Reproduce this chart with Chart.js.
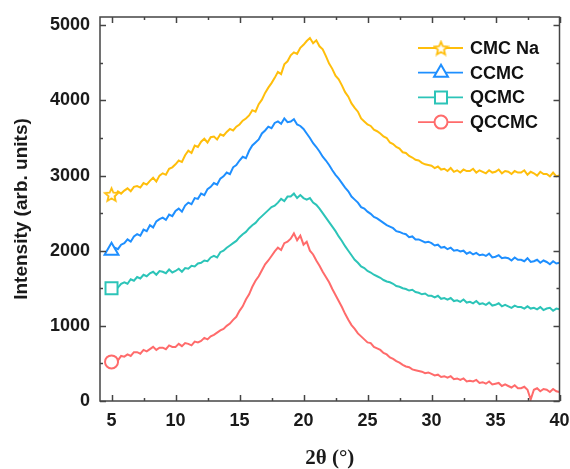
<!DOCTYPE html>
<html>
<head>
<meta charset="utf-8">
<script src="https://cdn.jsdelivr.net/npm/chart.js@4.4.0/dist/chart.umd.min.js"></script>
<style>
  html, body { margin: 0; padding: 0; background: #fff; }
  #wrap { width: 570px; height: 469px; }
</style>
</head>
<body>
<div id="wrap"><canvas id="xrdChart" width="570" height="469"></canvas></div>
<script>
// --- Data (2theta step 0.25 deg, 5..40) ---
const twoTheta = Array.from({ length: 141 }, (_, i) => 5 + i * 0.25);

const cmcNa = [
  2750, 2720, 2790, 2760, 2800, 2830, 2790, 2850, 2860, 2840, 2900, 2880,
  2930, 2970, 2920, 3000, 3030, 3010, 3090, 3110, 3150, 3200, 3180, 3270,
  3330, 3300, 3400, 3380, 3450, 3490, 3440, 3510, 3520, 3480, 3550, 3530,
  3580, 3620, 3600, 3650, 3680, 3730, 3760, 3800, 3870, 3850, 3950, 4010,
  4100, 4170, 4230, 4300, 4380, 4350, 4480, 4520, 4600, 4640, 4620, 4700,
  4740, 4790, 4830, 4760, 4800, 4720, 4680, 4590, 4490, 4420, 4330, 4280,
  4200, 4110, 4050, 3960, 3900, 3850, 3760, 3720, 3680, 3660, 3610, 3590,
  3560, 3520, 3500, 3440, 3420, 3380, 3360, 3310, 3300, 3260, 3240, 3210,
  3200, 3170, 3150, 3140, 3130, 3100, 3120, 3080, 3090, 3060, 3100, 3050,
  3070, 3040, 3080, 3060, 3060, 3090, 3040, 3070, 3050, 3030, 3070, 3040,
  3050, 3080, 3030, 3060, 3050, 3020, 3060, 3040, 3040, 3070, 3010, 3050,
  3030, 3000, 3050, 3020, 3020, 2990, 3040, 2990, 3000
];

const ccmc = [
  2000, 2040, 2020, 2080, 2100, 2150, 2120, 2190, 2220, 2200, 2280, 2260,
  2340, 2310, 2390, 2420, 2440, 2410, 2480, 2460, 2530, 2560, 2520, 2600,
  2640, 2620, 2700, 2690, 2760, 2740, 2820, 2850, 2900, 2880, 2960, 2990,
  3040, 3020, 3110, 3140, 3200, 3250, 3230, 3330, 3400, 3440, 3480, 3560,
  3600, 3650, 3630, 3700, 3720, 3690, 3760, 3710, 3720, 3750, 3680, 3660,
  3620, 3560, 3500, 3430, 3380, 3320, 3250, 3200, 3140, 3070, 3010, 2960,
  2900, 2840, 2790, 2720, 2680, 2640, 2580, 2560, 2520, 2490, 2450, 2430,
  2400, 2370, 2340, 2320, 2300, 2260, 2250, 2230, 2220, 2180, 2190, 2150,
  2150, 2130, 2110, 2120, 2100, 2070, 2080, 2040, 2050, 2020, 2040, 2000,
  2010, 1990, 2000, 1960, 1980, 1950, 1970, 1940, 1950, 1930, 1960, 1910,
  1920, 1940, 1900, 1910, 1900, 1870, 1910, 1880, 1880, 1860, 1900, 1850,
  1860, 1880, 1840, 1870, 1850, 1820, 1860, 1830, 1840
];

const qcmc = [
  1500, 1530, 1510, 1560, 1580, 1560, 1620, 1600, 1650, 1630, 1680, 1660,
  1700, 1720, 1680, 1730, 1720, 1700, 1750, 1710, 1730, 1760, 1720, 1770,
  1760, 1800, 1790, 1830, 1840, 1870, 1860, 1910, 1930, 1910, 1980, 2000,
  2040, 2070, 2100, 2130, 2180, 2220, 2250, 2300, 2340, 2370, 2420, 2460,
  2500, 2540, 2580, 2600, 2640, 2690, 2660, 2720, 2720, 2760, 2700, 2740,
  2700, 2680, 2700, 2640, 2610, 2560, 2500, 2440, 2380, 2320, 2260, 2190,
  2130, 2060, 2000, 1940, 1880, 1840, 1790, 1770, 1730, 1710, 1680, 1660,
  1640, 1610, 1590, 1580, 1560, 1530, 1520, 1500, 1490, 1470, 1480, 1450,
  1440, 1420, 1430, 1400, 1400, 1380, 1400, 1360, 1370, 1350, 1370, 1330,
  1340, 1320, 1350, 1310, 1320, 1300, 1330, 1290, 1300, 1280, 1310, 1270,
  1280, 1300, 1260, 1280, 1260, 1240, 1270, 1250, 1250, 1230, 1260, 1230,
  1240, 1220, 1250, 1210, 1230, 1240, 1200, 1230, 1220
];

const qccmc = [
  520, 560, 540, 600, 590, 620, 600, 650, 650, 630, 680, 660,
  690, 720, 680, 710, 710, 690, 740, 720, 720, 760, 730, 770,
  760, 740, 790, 780, 800, 840, 820, 860, 880, 910, 940, 960,
  1000, 1030, 1080, 1120, 1200, 1260, 1350, 1420, 1520, 1600, 1660, 1740,
  1820, 1870, 1930, 1990, 2040, 2010, 2100, 2120, 2160, 2230, 2140, 2200,
  2080, 2120, 2000, 1950, 1870, 1800, 1720, 1650, 1580, 1490, 1410, 1330,
  1250, 1160, 1080, 1010, 960, 900, 860, 820, 780, 770, 720, 700,
  680, 640, 620, 580, 560, 530, 510, 480, 460, 450, 420, 410,
  400, 390, 370, 380, 360, 340, 350, 320, 330, 310, 330, 290,
  300, 280, 300, 260, 270, 260, 280, 240, 250, 230, 260, 220,
  230, 240, 200, 220, 200, 180, 210, 170, 170, 190, 150, 20,
  150, 170, 130, 160, 150, 120, 160, 130, 120
];

const seriesNames = ["CMC Na", "CCMC", "QCMC", "QCCMC"];
const seriesColors = ["#FFBE0B", "#1E8FFF", "#2CC4B8", "#FF6B6B"];

const xTicks = [5, 10, 15, 20, 25, 30, 35, 40];
const xMinorTicks = [7.5, 12.5, 17.5, 22.5, 27.5, 32.5, 37.5];
const yTicks = [0, 1000, 2000, 3000, 4000, 5000];
const yMinorTicks = [500, 1500, 2500, 3500, 4500];

// hollow five-point star marker
function makeStar(color, size) {
  const c = document.createElement("canvas");
  c.width = size; c.height = size;
  const g = c.getContext("2d");
  const cx = size / 2, cy = size / 2 + 0.8, R = size / 2 - 1.5, r = R * 0.45;
  g.beginPath();
  for (let i = 0; i < 10; i++) {
    const ang = -Math.PI / 2 + i * Math.PI / 5;
    const rad = i % 2 ? r : R;
    g.lineTo(cx + rad * Math.cos(ang), cy + rad * Math.sin(ang));
  }
  g.closePath();
  g.fillStyle = "#fff";
  g.fill();
  g.strokeStyle = color;
  g.lineWidth = 1.8;
  g.stroke();
  return c;
}

const markerStyles = [makeStar(seriesColors[0], 17), "triangle", "rect", "circle"];
const markerRadius = [8, 8, 8.5, 6.5];

function toPoints(arr) {
  return arr.map((v, i) => ({ x: twoTheta[i], y: v }));
}

const seriesData = [cmcNa, ccmc, qcmc, qccmc];

const datasets = seriesData.map((arr, k) => ({
  label: seriesNames[k],
  data: toPoints(arr),
  borderColor: seriesColors[k],
  backgroundColor: "#fff",
  borderWidth: 2,
  tension: 0,
  pointStyle: markerStyles[k],
  pointRadius: c => (c.dataIndex === 0 ? markerRadius[k] : 0),
  pointHoverRadius: 0,
  pointBorderColor: seriesColors[k],
  pointBackgroundColor: "#fff",
  pointBorderWidth: 2
}));

// box frame with inward ticks + legend with line and marker
const frameAndLegend = {
  id: "frameAndLegend",
  afterDraw(chart) {
    const { ctx, chartArea: a, scales: { x, y } } = chart;
    ctx.save();
    ctx.strokeStyle = "#444";
    ctx.lineWidth = 1.5;
    ctx.strokeRect(a.left, a.top, a.right - a.left, a.bottom - a.top);

    function seg(x1, y1, x2, y2) {
      ctx.beginPath(); ctx.moveTo(x1, y1); ctx.lineTo(x2, y2); ctx.stroke();
    }
    xTicks.forEach(v => {
      const p = Math.round(x.getPixelForValue(v)) + 0.5;
      seg(p, a.bottom, p, a.bottom - 6); seg(p, a.top, p, a.top + 6);
    });
    xMinorTicks.forEach(v => {
      const p = Math.round(x.getPixelForValue(v)) + 0.5;
      seg(p, a.bottom, p, a.bottom - 3); seg(p, a.top, p, a.top + 3);
    });
    yTicks.forEach(v => {
      const p = Math.round(y.getPixelForValue(v)) + 0.5;
      seg(a.left, p, a.left + 6, p); seg(a.right, p, a.right - 6, p);
    });
    yMinorTicks.forEach(v => {
      const p = Math.round(y.getPixelForValue(v)) + 0.5;
      seg(a.left, p, a.left + 3, p); seg(a.right, p, a.right - 3, p);
    });

    // legend
    const lx0 = 418, lx1 = 463, mx = 441, tx = 470;
    let ly = 48;
    chart.data.datasets.forEach((ds, k) => {
      ctx.strokeStyle = ds.borderColor;
      ctx.lineWidth = 1.8;
      seg(lx0, ly, lx1, ly);
      ctx.fillStyle = "#fff";
      ctx.lineWidth = 2;
      Chart.helpers.drawPoint(ctx, {
        pointStyle: ds.pointStyle, radius: markerRadius[k], borderWidth: 2, rotation: 0
      }, mx, ly);
      ctx.fillStyle = "#111";
      ctx.font = "bold 18px 'Liberation Sans', Arial, sans-serif";
      ctx.textAlign = "left";
      ctx.textBaseline = "middle";
      ctx.fillText(ds.label, tx, ly + 1);
      ly += 24.7;
    });
    ctx.restore();
  }
};

const tickFont = { family: "'Liberation Sans', Arial, sans-serif", size: 18, weight: "bold" };

new Chart(document.getElementById("xrdChart").getContext("2d"), {
  type: "line",
  data: { datasets: datasets },
  options: {
    responsive: false,
    animation: false,
    devicePixelRatio: 1,
    layout: { padding: { top: 17, right: 9, left: 0, bottom: 0 } },
    plugins: { legend: { display: false }, tooltip: { enabled: false } },
    scales: {
      x: {
        type: "linear",
        min: 4.1,
        max: 40,
        afterBuildTicks: s => { s.ticks = xTicks.map(v => ({ value: v })); },
        afterFit: s => { s.height = 68; s.paddingLeft = 0; s.paddingRight = 0; },
        grid: { display: false, drawTicks: false },
        border: { display: false },
        ticks: { color: "#1a1a1a", font: tickFont, padding: 9, maxRotation: 0, callback: v => String(v) },
        title: {
          display: true,
          text: "2θ (°)",
          color: "#1a1a1a",
          font: { family: "'Liberation Serif', 'Times New Roman', serif", size: 21, weight: "bold", lineHeight: 1 },
          padding: { top: 0, bottom: 0 }
        }
      },
      y: {
        min: 0,
        max: 5110,
        afterBuildTicks: s => { s.ticks = yTicks.map(v => ({ value: v })); },
        afterFit: s => { s.width = 100; s.paddingTop = 0; s.paddingBottom = 0; },
        grid: { display: false, drawTicks: false },
        border: { display: false },
        ticks: { color: "#1a1a1a", font: tickFont, padding: 10, callback: v => String(v) },
        title: {
          display: true,
          text: "Intensity (arb. units)",
          color: "#1a1a1a",
          font: { family: "'Liberation Sans', Arial, sans-serif", size: 19, weight: "bold", lineHeight: 1.2 },
          padding: { top: 10, bottom: 0 }
        }
      }
    }
  },
  plugins: [frameAndLegend]
});
</script>
</body>
</html>
